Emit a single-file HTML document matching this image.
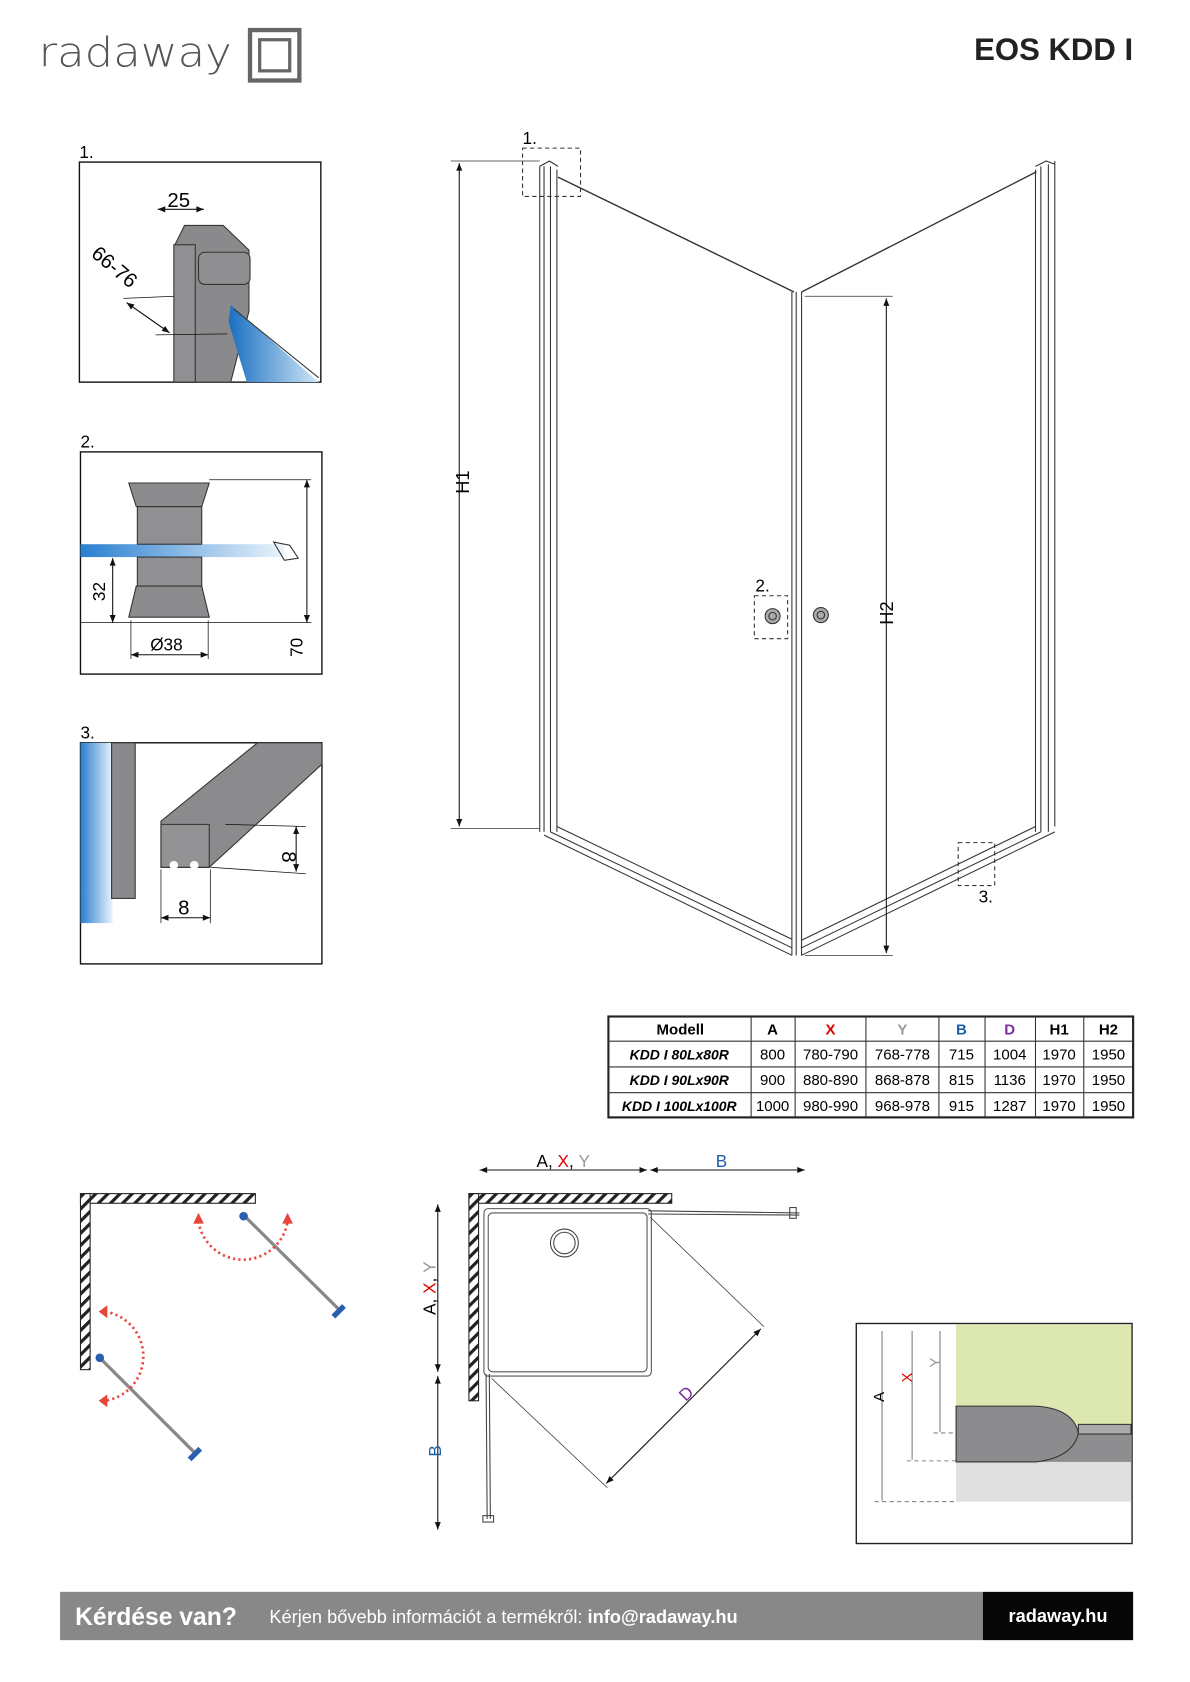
<!DOCTYPE html>
<html><head><meta charset="utf-8"><style>
html,body{margin:0;padding:0;background:#fff}
svg{display:block}
text{font-family:"Liberation Sans",sans-serif}
</style></head><body>
<svg width="1190" height="1682" viewBox="0 0 1109 1567" preserveAspectRatio="none" xmlns="http://www.w3.org/2000/svg">
<defs>
<linearGradient id="gl" x1="0" x2="1" y1="0" y2="0"><stop offset="0" stop-color="#1a6fc0"/><stop offset="1" stop-color="#cfe6f7"/></linearGradient>
<linearGradient id="gl2" x1="0" x2="1"><stop offset="0" stop-color="#2a7fd0"/><stop offset="1" stop-color="#eaf4fb"/></linearGradient>
<pattern id="hatch" width="8" height="8" patternUnits="userSpaceOnUse" patternTransform="rotate(45)"><rect width="8" height="8" fill="#fff"/><rect width="3" height="8" fill="#222"/></pattern>
<marker id="ar" viewBox="0 0 10 10" refX="10" refY="5" markerWidth="9" markerHeight="7" orient="auto-start-reverse"><path d="M0,1 L10,5 L0,9 z" fill="#111"/></marker>
</defs>

<!-- logo -->
<text x="36" y="62" font-size="38" fill="#555" textLength="180" lengthAdjust="spacingAndGlyphs" style="font-family:'DejaVu Sans',sans-serif;font-weight:300">radaway</text>
<rect x="233" y="28" width="46" height="47" fill="none" stroke="#666" stroke-width="4"/>
<rect x="242" y="37" width="28" height="29" fill="none" stroke="#666" stroke-width="3"/>
<text x="1056" y="56" font-size="29" font-weight="bold" text-anchor="end" fill="#222">EOS KDD I</text>

<!-- detail 1 -->
<text x="74" y="147" font-size="16">1.</text>
<rect x="74" y="151" width="225" height="205" fill="#fff" stroke="#111" stroke-width="1.3"/>
<path d="M163,356 V228 L172,210 H208 L232,233 V290 L215,356 Z" fill="#8a8a8c" stroke="#333"/>
<rect x="162" y="228" width="20" height="128" fill="#909093" stroke="#333"/>
<rect x="185" y="235" width="48" height="30" rx="6" fill="#8f8f92" stroke="#333"/>
<path d="M215,284 L297,356 H230 L213,300 Z" fill="url(#gl)"/>
<line x1="218" y1="288" x2="297" y2="352" stroke="#333"/>
<line x1="147" y1="195" x2="190" y2="195" stroke="#111" marker-start="url(#ar)" marker-end="url(#ar)"/>
<text x="156" y="193" font-size="19">25</text>
<line x1="118" y1="282" x2="158" y2="310" stroke="#111" marker-start="url(#ar)" marker-end="url(#ar)"/>
<line x1="115" y1="278" x2="162" y2="276" stroke="#111" stroke-width=".7"/>
<line x1="145" y1="312" x2="212" y2="311" stroke="#111" stroke-width=".7"/>
<text x="84" y="238" font-size="19" transform="rotate(40 84 238)">66-76</text>

<!-- detail 2 -->
<text x="75" y="417" font-size="16">2.</text>
<rect x="75" y="421" width="225" height="207" fill="#fff" stroke="#111" stroke-width="1.3"/>
<rect x="75" y="507" width="190" height="12" fill="url(#gl2)"/>
<path d="M120,450 H195 L188,472 H127 Z" fill="#8c8c8f" stroke="#333"/>
<rect x="128" y="472" width="60" height="35" fill="#909093" stroke="#333"/>
<rect x="128" y="519" width="60" height="27" fill="#909093" stroke="#333"/>
<path d="M127,546 H188 L195,575 H120 Z" fill="#8c8c8f" stroke="#333"/>
<path d="M255,505 L270,508 L278,520 L265,522 Z" fill="none" stroke="#333"/>
<line x1="195" y1="447" x2="290" y2="447" stroke="#111" stroke-width=".7"/>
<line x1="75" y1="580" x2="290" y2="580" stroke="#111" stroke-width=".7"/>
<line x1="286" y1="447" x2="286" y2="580" stroke="#111" marker-start="url(#ar)" marker-end="url(#ar)"/>
<line x1="105" y1="520" x2="105" y2="580" stroke="#111" marker-start="url(#ar)" marker-end="url(#ar)"/>
<line x1="122" y1="610" x2="194" y2="610" stroke="#111" marker-start="url(#ar)" marker-end="url(#ar)"/>
<line x1="122" y1="578" x2="122" y2="614" stroke="#111" stroke-width=".7"/>
<line x1="194" y1="578" x2="194" y2="614" stroke="#111" stroke-width=".7"/>
<text x="140" y="606" font-size="16">Ø38</text>
<text x="98" y="560" font-size="16" transform="rotate(-90 98 560)">32</text>
<text x="282" y="612" font-size="16" transform="rotate(-90 282 612)">70</text>

<!-- detail 3 -->
<text x="75" y="688" font-size="16">3.</text>
<rect x="75" y="692" width="225" height="206" fill="#fff" stroke="#111" stroke-width="1.3"/>
<rect x="75" y="692" width="30" height="168" fill="url(#gl2)"/>
<rect x="104" y="692" width="22" height="145" fill="#8a8a8d" stroke="#333"/>
<path d="M150,765 L240,692 H300 V712 L195,808 H150 Z" fill="#8b8b8e" stroke="#333"/>
<path d="M150,768 H195 V808 H150 Z" fill="#939396" stroke="#333"/>
<circle cx="162" cy="806" r="4" fill="#fff"/><circle cx="181" cy="806" r="4" fill="#fff"/>
<line x1="150" y1="855" x2="196" y2="855" stroke="#111" marker-start="url(#ar)" marker-end="url(#ar)"/>
<line x1="150" y1="810" x2="150" y2="860" stroke="#111" stroke-width=".7"/>
<line x1="196" y1="810" x2="196" y2="860" stroke="#111" stroke-width=".7"/>
<text x="166" y="852" font-size="19">8</text>
<line x1="276" y1="770" x2="276" y2="812" stroke="#111" marker-start="url(#ar)" marker-end="url(#ar)"/>
<line x1="210" y1="768" x2="285" y2="770" stroke="#111" stroke-width=".7"/>
<line x1="196" y1="808" x2="285" y2="814" stroke="#111" stroke-width=".7"/>
<text x="270" y="800" font-size="19" transform="rotate(90 270 793)">8</text>

<!-- main drawing -->
<g stroke="#333" fill="none">
<path d="M503,155 V775 M507,155 V775 M513,155 V775 M519,158 V775"/>
<path d="M503,155 L512,150 L520,155"/>
<path d="M965,158 V775 M970,155 V775 M977,153 V775 M983,150 V770"/>
<path d="M965,155 L975,150 L983,153"/>
<path d="M738,272 V890 M742,272 V890 M747,272 V890"/>
<line x1="520" y1="165" x2="740" y2="272" stroke-width="1.3"/>
<line x1="747" y1="272" x2="966" y2="160" stroke-width="1.3"/>
<path d="M513,775 L738,883 M519,770 L738,875 M507,778 L738,890"/>
<path d="M747,883 L970,775 M747,876 L965,770 M747,890 L983,775"/>
<line x1="420" y1="150" x2="503" y2="150" stroke-width=".7"/>
<line x1="420" y1="772" x2="503" y2="772" stroke-width=".7"/>
<line x1="750" y1="276" x2="832" y2="276" stroke-width=".7"/>
<line x1="750" y1="890" x2="832" y2="890" stroke-width=".7"/>
</g>
<line x1="428" y1="152" x2="428" y2="770" stroke="#111" marker-start="url(#ar)" marker-end="url(#ar)"/>
<line x1="826" y1="278" x2="826" y2="888" stroke="#111" marker-start="url(#ar)" marker-end="url(#ar)"/>
<text x="426" y="471" font-size="17" transform="rotate(-90 426 460)">H1</text>
<text x="822" y="592" font-size="17" transform="rotate(-90 822 582)">H2</text>
<g fill="none" stroke="#333" stroke-dasharray="4,3"><rect x="487" y="138" width="54" height="45"/><rect x="703" y="555" width="31" height="40"/><rect x="893" y="785" width="34" height="40"/></g>
<text x="487" y="134" font-size="16">1.</text>
<text x="704" y="551" font-size="16">2.</text>
<text x="912" y="841" font-size="16">3.</text>
<g fill="#aaa" stroke="#333"><circle cx="720" cy="574" r="7"/><circle cx="765" cy="573" r="7"/></g>
<g fill="none" stroke="#333"><circle cx="720" cy="574" r="3.5"/><circle cx="765" cy="573" r="3.5"/></g>

<!-- table -->
<g font-size="14" text-anchor="middle">
<rect x="567" y="947" width="489" height="94" fill="#fff" stroke="#222" stroke-width="2"/>
<g stroke="#333" stroke-width="1">
<line x1="567" y1="970" x2="1056" y2="970"/><line x1="567" y1="994" x2="1056" y2="994"/><line x1="567" y1="1018" x2="1056" y2="1018"/>
<line x1="700" y1="947" x2="700" y2="1041"/><line x1="741" y1="947" x2="741" y2="1041"/><line x1="807" y1="947" x2="807" y2="1041"/><line x1="875" y1="947" x2="875" y2="1041"/><line x1="918" y1="947" x2="918" y2="1041"/><line x1="965" y1="947" x2="965" y2="1041"/><line x1="1010" y1="947" x2="1010" y2="1041"/>
</g>
<g font-weight="bold"><text x="634" y="964">Modell</text><text x="720" y="964">A</text><text x="774" y="964" fill="#d00">X</text><text x="841" y="964" fill="#999">Y</text><text x="896" y="964" fill="#1f5fa8">B</text><text x="941" y="964" fill="#7a2da0">D</text><text x="987" y="964">H1</text><text x="1033" y="964">H2</text></g>
<g font-weight="bold" font-style="italic" font-size="13"><text x="633" y="987">KDD I 80Lx80R</text><text x="633" y="1011">KDD I 90Lx90R</text><text x="633" y="1035">KDD I 100Lx100R</text></g>
<text x="720" y="987">800</text><text x="774" y="987">780-790</text><text x="841" y="987">768-778</text><text x="896" y="987">715</text><text x="941" y="987">1004</text><text x="987" y="987">1970</text><text x="1033" y="987">1950</text>
<text x="720" y="1011">900</text><text x="774" y="1011">880-890</text><text x="841" y="1011">868-878</text><text x="896" y="1011">815</text><text x="941" y="1011">1136</text><text x="987" y="1011">1970</text><text x="1033" y="1011">1950</text>
<text x="720" y="1035">1000</text><text x="774" y="1035">980-990</text><text x="841" y="1035">968-978</text><text x="896" y="1035">915</text><text x="941" y="1035">1287</text><text x="987" y="1035">1970</text><text x="1033" y="1035">1950</text>
</g>

<!-- plan left -->
<rect x="75" y="1112" width="163" height="9" fill="url(#hatch)" stroke="#222"/>
<rect x="75" y="1112" width="9" height="164" fill="url(#hatch)" stroke="#222"/>
<g stroke="#888" stroke-width="3"><line x1="227" y1="1132" x2="318" y2="1222"/><line x1="93" y1="1265" x2="183" y2="1355"/></g>
<g fill="#2a5fb0"><circle cx="227" cy="1133" r="4"/><circle cx="93" cy="1265" r="4"/><rect x="313" y="1215" width="5" height="14" transform="rotate(45 316 1222)"/><rect x="179" y="1348" width="5" height="14" transform="rotate(45 182 1355)"/></g>
<g fill="none" stroke="#e8463a" stroke-width="2.5" stroke-dasharray="2,3"><path d="M185,1138 A42,42 0 0 0 268,1138"/><path d="M98,1222 A42,42 0 0 1 98,1305"/></g>
<g fill="#e8463a"><path d="M180,1140 L185,1130 L190,1140Z"/><path d="M263,1140 L268,1130 L273,1140Z"/><path d="M100,1216 L92,1222 L100,1228Z"/><path d="M100,1299 L92,1305 L100,1311Z"/></g>

<!-- plan middle -->
<rect x="437" y="1112" width="189" height="9" fill="url(#hatch)" stroke="#222"/>
<rect x="437" y="1112" width="9" height="193" fill="url(#hatch)" stroke="#222"/>
<rect x="451" y="1126" width="156" height="156" rx="4" fill="none" stroke="#555"/>
<rect x="455" y="1130" width="148" height="148" rx="4" fill="none" stroke="#555"/>
<circle cx="526" cy="1158" r="13" fill="none" stroke="#444"/><circle cx="526" cy="1158" r="10" fill="none" stroke="#444"/>
<g stroke="#444"><line x1="604" y1="1128" x2="745" y2="1130"/><line x1="604" y1="1131" x2="745" y2="1132"/><line x1="453" y1="1280" x2="454" y2="1415"/><line x1="456" y1="1280" x2="457" y2="1415"/></g>
<rect x="736" y="1125" width="6" height="10" fill="none" stroke="#444"/><rect x="450" y="1412" width="10" height="6" fill="none" stroke="#444"/>
<g stroke="#333" stroke-width=".7"><line x1="606" y1="1134" x2="712" y2="1236"/><line x1="458" y1="1284" x2="566" y2="1386"/></g>
<line x1="565" y1="1382" x2="709" y2="1238" stroke="#111" marker-start="url(#ar)" marker-end="url(#ar)"/>
<text x="635" y="1308" font-size="16" fill="#7a2da0" transform="rotate(-45 635 1302)">D</text>
<line x1="447" y1="1090" x2="603" y2="1090" stroke="#111" marker-start="url(#ar)" marker-end="url(#ar)"/>
<line x1="606" y1="1090" x2="750" y2="1090" stroke="#111" marker-start="url(#ar)" marker-end="url(#ar)"/>
<text x="500" y="1087" font-size="16">A, <tspan fill="#d00">X</tspan>, <tspan fill="#999">Y</tspan></text>
<text x="667" y="1087" font-size="16" fill="#1f5fa8">B</text>
<line x1="408" y1="1122" x2="408" y2="1278" stroke="#111" marker-start="url(#ar)" marker-end="url(#ar)"/>
<line x1="408" y1="1282" x2="408" y2="1425" stroke="#111" marker-start="url(#ar)" marker-end="url(#ar)"/>
<text x="406" y="1225" font-size="16" transform="rotate(-90 406 1225)">A, <tspan fill="#d00">X</tspan>, <tspan fill="#999">Y</tspan></text>
<text x="405" y="1363" font-size="16" fill="#1f5fa8" transform="rotate(-90 405 1357)">B</text>

<!-- right detail -->
<rect x="798" y="1233" width="257" height="205" fill="#fff" stroke="#222" stroke-width="1.3"/>
<rect x="891" y="1234" width="163" height="101" fill="#dde8b0"/>
<rect x="891" y="1335" width="163" height="27" fill="#8e8e91"/>
<rect x="891" y="1362" width="163" height="37" fill="#e0e0e0"/>
<path d="M891,1310 H965 Q1000,1312 1005,1335 Q1000,1358 965,1362 H891 Z" fill="#8c8c8f" stroke="#333"/>
<rect x="1005" y="1327" width="49" height="9" fill="#aaa" stroke="#333"/>
<g stroke="#444" stroke-width=".7"><line x1="822" y1="1240" x2="822" y2="1398"/><line x1="850" y1="1240" x2="850" y2="1360"/><line x1="876" y1="1240" x2="876" y2="1334"/></g>
<g stroke="#666" stroke-dasharray="4,3" stroke-width=".8"><line x1="815" y1="1399" x2="891" y2="1399"/><line x1="845" y1="1361" x2="891" y2="1361"/><line x1="870" y1="1335" x2="891" y2="1335"/></g>
<text x="820" y="1310" font-size="14" transform="rotate(-90 820 1306)">A</text>
<text x="846" y="1292" font-size="14" fill="#d00" transform="rotate(-90 846 1288)">X</text>
<text x="872" y="1278" font-size="14" fill="#999" transform="rotate(-90 872 1274)">Y</text>

<!-- footer -->
<rect x="56" y="1483" width="860" height="45" fill="#888"/>
<rect x="916" y="1483" width="140" height="45" fill="#060606"/>
<text x="70" y="1514" font-size="23" font-weight="bold" fill="#fff">Kérdése van?</text>
<text x="251" y="1512" font-size="17" fill="#fff">Kérjen bővebb információt a termékről: <tspan font-weight="bold">info@radaway.hu</tspan></text>
<text x="986" y="1511" font-size="17" font-weight="bold" fill="#fff" text-anchor="middle">radaway.hu</text>
</svg>
</body></html>
